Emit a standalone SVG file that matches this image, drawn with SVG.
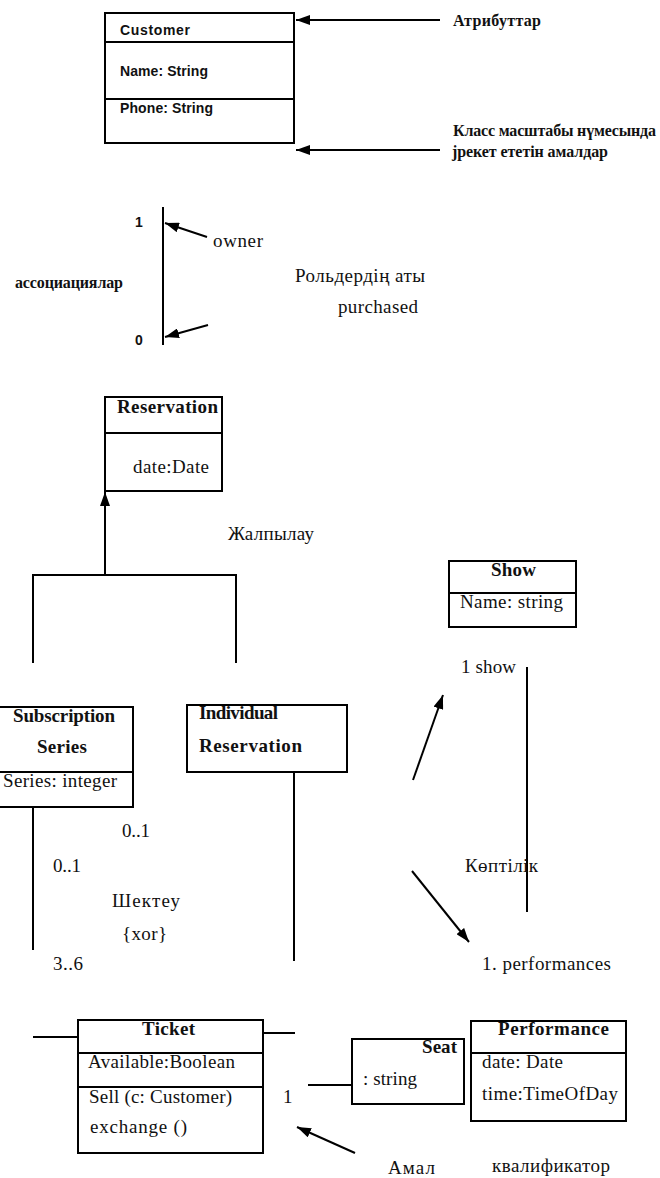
<svg xmlns="http://www.w3.org/2000/svg" width="660" height="1178" viewBox="0 0 660 1178">
<style>
.box{fill:#fff;stroke:#000;stroke-width:2}
.ln{fill:none;stroke:#000;stroke-width:2}
.sn{font-family:"Liberation Sans",Arial,sans-serif;font-size:14px;font-weight:bold;fill:#111}
.sr{font-family:"Liberation Serif","Times New Roman",serif;font-size:19px;fill:#111}
.sb{font-family:"Liberation Serif","Times New Roman",serif;font-size:19px;font-weight:bold;fill:#111}
.sm{font-family:"Liberation Serif","Times New Roman",serif;font-size:16px;font-weight:bold;fill:#111}
</style>
<defs>
<marker id="ah" markerUnits="userSpaceOnUse" markerWidth="14" markerHeight="10" refX="14" refY="5" orient="auto">
<path d="M0,0 L14,5 L0,10 z" fill="#000"/>
</marker>
</defs>
<rect width="660" height="1178" fill="#fff"/>

<g id="customer">
<rect class="box" x="105" y="13" width="189" height="130"/>
<line class="ln" x1="105" y1="42" x2="294" y2="42"/>
<line class="ln" x1="105" y1="99" x2="294" y2="99"/>
<text class="sn" x="120" y="35" textLength="70">Customer</text>
<text class="sn" x="120" y="76" textLength="88">Name: String</text>
<text class="sn" x="120" y="113" textLength="93">Phone: String</text>
</g>

<g id="reservation">
<rect class="box" x="105" y="397" width="117" height="94"/>
<line class="ln" x1="105" y1="433" x2="222" y2="433"/>
<text class="sb" x="117" y="413" textLength="101">Reservation</text>
<text class="sr" x="133" y="473" textLength="76">date:Date</text>
</g>

<g id="subscription">
<rect class="box" x="-2" y="707" width="135" height="100"/>
<line class="ln" x1="-2" y1="772" x2="133" y2="772"/>
<text class="sb" x="13" y="722" textLength="102">Subscription</text>
<text class="sb" x="37" y="753" textLength="50">Series</text>
<text class="sr" x="3" y="787" textLength="114">Series: integer</text>
</g>

<g id="individual">
<rect class="box" x="187" y="705" width="160" height="67"/>
<text class="sb" x="199" y="719" textLength="79">Individual</text>
<text class="sb" x="199" y="752" textLength="103">Reservation</text>
</g>

<g id="show">
<rect class="box" x="449" y="561" width="127" height="66"/>
<line class="ln" x1="449" y1="593" x2="576" y2="593"/>
<text class="sb" x="491" y="576" textLength="45">Show</text>
<text class="sr" x="460" y="608" textLength="103">Name: string</text>
</g>

<g id="ticket">
<rect class="box" x="78" y="1020" width="185" height="133"/>
<line class="ln" x1="78" y1="1053" x2="263" y2="1053"/>
<line class="ln" x1="78" y1="1087" x2="263" y2="1087"/>
<text class="sb" x="142" y="1035" textLength="53">Ticket</text>
<text class="sr" x="88" y="1068" textLength="147">Available:Boolean</text>
<text class="sr" x="89" y="1103" textLength="143">Sell (c: Customer)</text>
<text class="sr" x="90" y="1133" textLength="97">exchange ()</text>
</g>

<g id="seat">
<rect class="box" x="352" y="1039" width="112" height="65"/>
<text class="sb" x="422" y="1053" textLength="35">Seat</text>
<text class="sr" x="363" y="1085" textLength="54">: string</text>
</g>

<g id="performance">
<rect class="box" x="471" y="1021" width="155" height="100"/>
<line class="ln" x1="471" y1="1053" x2="626" y2="1053"/>
<text class="sb" x="498" y="1035" textLength="111">Performance</text>
<text class="sr" x="482" y="1068" textLength="81">date: Date</text>
<text class="sr" x="482" y="1100" textLength="136">time:TimeOfDay</text>
</g>

<g id="connectors">
<line class="ln" x1="440" y1="20" x2="296" y2="20" marker-end="url(#ah)"/>
<line class="ln" x1="440" y1="150" x2="296" y2="150" marker-end="url(#ah)"/>
<line class="ln" x1="163" y1="207" x2="163" y2="345"/>
<line class="ln" x1="207" y1="237" x2="165" y2="223" marker-end="url(#ah)"/>
<line class="ln" x1="208" y1="325" x2="165" y2="337" marker-end="url(#ah)"/>
<polyline class="ln" points="33,663 33,575 236,575 236,663"/>
<line class="ln" x1="105" y1="575" x2="105" y2="492" marker-end="url(#ah)"/>
<line class="ln" x1="33" y1="807" x2="33" y2="950"/>
<line class="ln" x1="294" y1="772" x2="294" y2="961"/>
<line class="ln" x1="527" y1="667" x2="527" y2="912"/>
<line class="ln" x1="413" y1="780" x2="443" y2="695" marker-end="url(#ah)"/>
<line class="ln" x1="412" y1="871" x2="469" y2="942" marker-end="url(#ah)"/>
<line class="ln" x1="33" y1="1037" x2="78" y2="1037"/>
<line class="ln" x1="263" y1="1033" x2="295" y2="1033"/>
<line class="ln" x1="308" y1="1085" x2="352" y2="1085"/>
<line class="ln" x1="355" y1="1153" x2="297" y2="1127" marker-end="url(#ah)"/>
</g>

<g id="labels">
<text class="sm" x="453" y="26" textLength="88">Атрибуттар</text>
<text class="sm" x="453" y="136" textLength="203">Класс масштабы  нүмесында</text>
<text class="sm" x="452" y="157" textLength="156">jрекет ететін амалдар</text>
<text class="sn" x="135" y="227" font-size="11">1</text>
<text class="sn" x="135" y="345" font-size="11">0</text>
<text class="sr" x="213" y="247" textLength="50">owner</text>
<text class="sm" x="15" y="288" textLength="108">ассоциациялар</text>
<text class="sr" x="295" y="282" textLength="130">Рольдердің аты</text>
<text class="sr" x="338" y="313" textLength="80">purchased</text>
<text class="sr" x="228" y="540" textLength="86">Жалпылау</text>
<text class="sr" x="122" y="837" textLength="28">0..1</text>
<text class="sr" x="53" y="872" textLength="28">0..1</text>
<text class="sr" x="112" y="907" textLength="68">Шектеу</text>
<text class="sr" x="122" y="940" textLength="45">{xor}</text>
<text class="sr" x="53" y="970" textLength="30">3..6</text>
<text class="sr" x="461" y="673" textLength="55">1 show</text>
<text class="sr" x="465" y="872" textLength="73">Көптілік</text>
<text class="sr" x="482" y="970" textLength="129">1. performances</text>
<text class="sr" x="283" y="1103">1</text>
<text class="sr" x="388" y="1174" textLength="47">Амал</text>
<text class="sr" x="492" y="1172" textLength="118">квалификатор</text>
</g>
</svg>
